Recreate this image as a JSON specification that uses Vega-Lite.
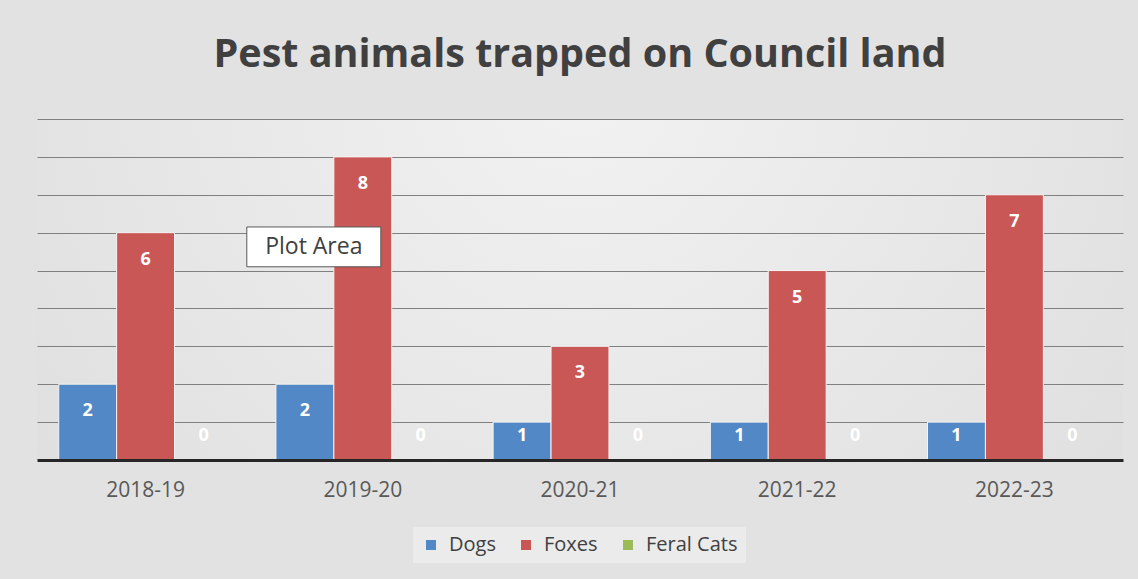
{
  "$schema": "https://vega.github.io/schema/vega-lite/v6.json",
  "autosize": {"type": "none"},
  "width": 1086,
  "height": 341,
  "padding": {"left": 37, "top": 119, "right": 15, "bottom": 119},
  "background": "#e2e2e2",
  "title": {
    "text": "Pest animals trapped on Council land",
    "font": "Open Sans",
    "fontSize": 39.5,
    "fontWeight": "bold",
    "color": "#404040",
    "anchor": "middle",
    "baseline": "bottom",
    "offset": 5
  },
  "data": {
    "values": [
      {"year": "2018-19", "series": "Dogs", "count": 2},
      {"year": "2018-19", "series": "Foxes", "count": 6},
      {"year": "2018-19", "series": "Feral Cats", "count": 0},
      {"year": "2019-20", "series": "Dogs", "count": 2},
      {"year": "2019-20", "series": "Foxes", "count": 8},
      {"year": "2019-20", "series": "Feral Cats", "count": 0},
      {"year": "2020-21", "series": "Dogs", "count": 1},
      {"year": "2020-21", "series": "Foxes", "count": 3},
      {"year": "2020-21", "series": "Feral Cats", "count": 0},
      {"year": "2021-22", "series": "Dogs", "count": 1},
      {"year": "2021-22", "series": "Foxes", "count": 5},
      {"year": "2021-22", "series": "Feral Cats", "count": 0},
      {"year": "2022-23", "series": "Dogs", "count": 1},
      {"year": "2022-23", "series": "Foxes", "count": 7},
      {"year": "2022-23", "series": "Feral Cats", "count": 0}
    ]
  },
  "encoding": {
    "x": {
      "field": "year",
      "type": "nominal",
      "scale": {"paddingInner": 0.2, "paddingOuter": 0.1},
      "axis": {
        "title": null,
        "labelAngle": 0,
        "labelFont": "Open Sans",
        "labelFontSize": 21,
        "labelColor": "#595959",
        "labelPadding": 19,
        "ticks": false,
        "domainColor": "#262626",
        "domainWidth": 3,
        "zindex": 1
      }
    },
    "xOffset": {
      "field": "series",
      "type": "nominal",
      "sort": ["Dogs", "Foxes", "Feral Cats"],
      "scale": {"paddingInner": 0, "paddingOuter": 0}
    }
  },
  "layer": [
    {
      "mark": {"type": "bar", "stroke": "#f4f4f4", "strokeWidth": 1},
      "encoding": {
        "y": {
          "field": "count",
          "type": "quantitative",
          "scale": {"domain": [0, 9], "nice": false},
          "axis": {
            "title": null,
            "labels": false,
            "ticks": false,
            "domain": false,
            "grid": true,
            "values": [1, 2, 3, 4, 5, 6, 7, 8, 9],
            "gridColor": "#808080",
            "gridWidth": 1
          }
        },
        "color": {
          "field": "series",
          "type": "nominal",
          "scale": {"domain": ["Dogs", "Foxes", "Feral Cats"], "range": ["#5288C6", "#C95756", "#9BBB59"]},
          "legend": {
            "title": null,
            "orient": "none",
            "legendX": 376,
            "legendY": 408,
            "direction": "horizontal",
            "labelFont": "Open Sans",
            "labelFontSize": 20,
            "labelColor": "#404040",
            "labelOffset": 8,
            "symbolType": "square",
            "symbolSize": 100,
            "symbolStrokeWidth": 0,
            "columnPadding": 20,
            "padding": 8,
            "fillColor": "#ebebeb"
          }
        }
      }
    },
    {
      "transform": [{"filter": "datum.count >= 2"}],
      "mark": {"type": "text", "color": "white", "font": "Open Sans", "fontSize": 18, "fontWeight": "bold", "baseline": "middle", "dy": 27},
      "encoding": {
        "y": {"field": "count", "type": "quantitative"},
        "text": {"field": "count", "type": "quantitative"}
      }
    },
    {
      "transform": [{"filter": "datum.count < 2"}],
      "mark": {"type": "text", "color": "white", "font": "Open Sans", "fontSize": 18, "fontWeight": "bold", "baseline": "middle", "dy": -24},
      "encoding": {
        "y": {"datum": 0, "type": "quantitative"},
        "text": {"field": "count", "type": "quantitative"}
      }
    },
    {
      "data": {"values": [{"label": "Plot Area"}]},
      "mark": {"type": "bar", "fill": "white", "stroke": "#595959", "strokeWidth": 1, "width": 134, "xOffset": -49},
      "encoding": {
        "x": {"datum": "2019-20", "type": "nominal"},
        "xOffset": null,
        "y": {"datum": 6.15, "type": "quantitative"},
        "y2": {"datum": 5.1}
      }
    },
    {
      "data": {"values": [{"label": "Plot Area"}]},
      "mark": {"type": "text", "font": "Open Sans", "fontSize": 23, "color": "#404040", "dx": -49, "baseline": "middle"},
      "encoding": {
        "x": {"datum": "2019-20", "type": "nominal"},
        "xOffset": null,
        "y": {"datum": 5.62, "type": "quantitative"},
        "text": {"field": "label"}
      }
    }
  ],
  "config": {
    "view": {"stroke": null, "fill": {"gradient": "radial", "x1": 0.5, "y1": 0.3, "x2": 0.5, "y2": 0.3, "r1": 0, "r2": 0.8, "stops": [{"offset": 0, "color": "#f2f2f2"}, {"offset": 1, "color": "#dadada"}]}}
  }
}
